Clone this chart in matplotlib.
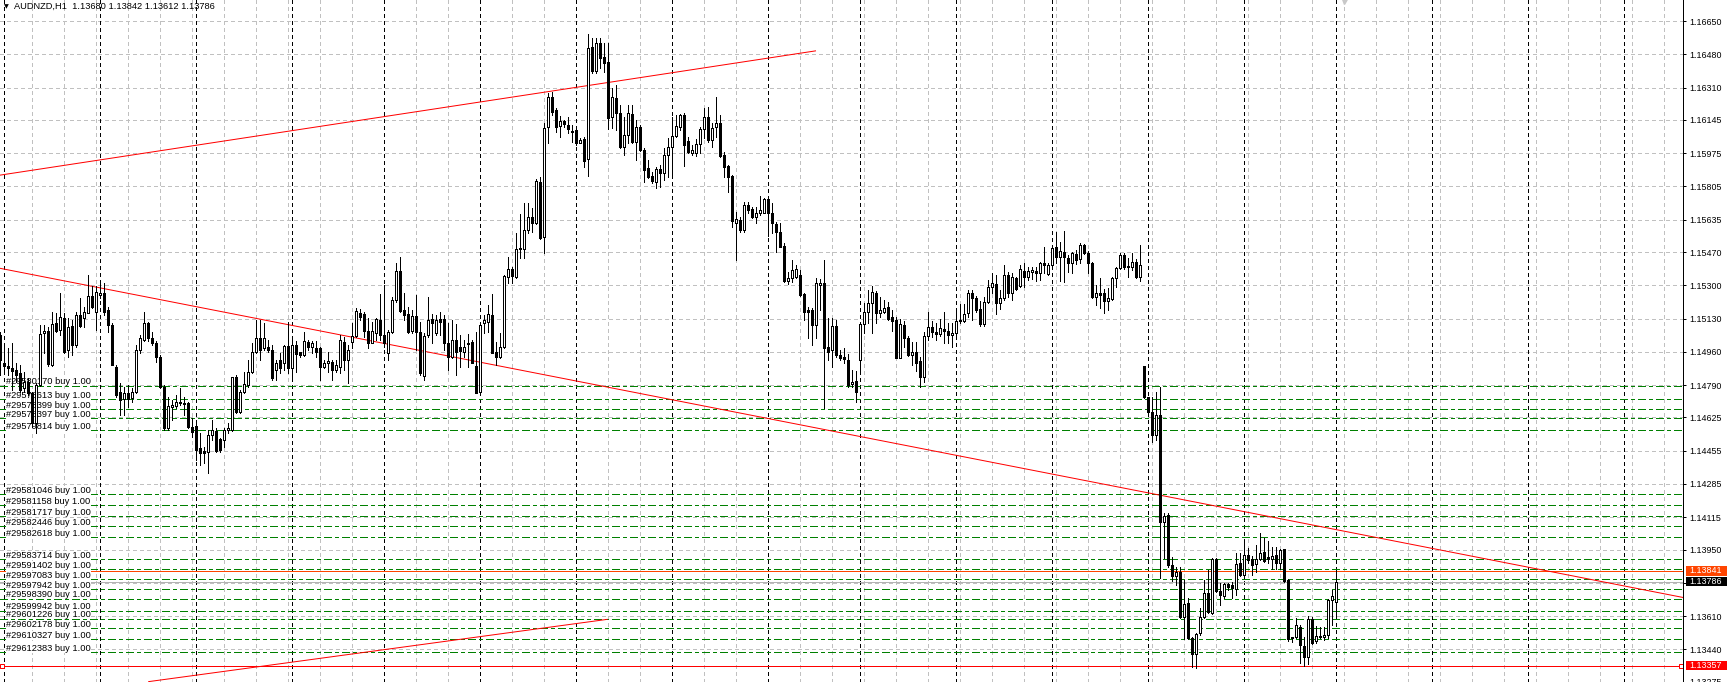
"""
AUDNZD H1 chart with order levels, trend lines and price scale (MT4 style).
"""
import numpy as np
import matplotlib.pyplot as plt
from matplotlib.patches import Rectangle
from matplotlib.transforms import blended_transform_factory

plt.rcParams["font.family"] = ["Liberation Sans", "DejaVu Sans"]

FIG_W, FIG_H, DPI = 1728, 682, 100
PLOT_W = 1683
PX = 72 / DPI  # one pixel in points

# ---------------------------------------------------------------- data
opens = [
    1.15047, 1.14902, 1.14888, 1.14880, 1.14868, 1.14851, 1.14774, 1.14808, 1.14748, 1.14595,
    1.14791, 1.15055, 1.15069, 1.14893, 1.15110, 1.15072, 1.15132, 1.14970, 1.15093, 1.14995,
    1.15149, 1.15132, 1.15161, 1.15246, 1.15166, 1.15251, 1.15260, 1.15174, 1.15098, 1.14885,
    1.14757, 1.14718, 1.14752, 1.14723, 1.14757, 1.14970, 1.15021, 1.15106, 1.15030, 1.15004,
    1.14936, 1.14782, 1.14569, 1.14680, 1.14684, 1.14706, 1.14701, 1.14701, 1.14578, 1.14581,
    1.14467, 1.14455, 1.14450, 1.14535, 1.14558, 1.14513, 1.14510, 1.14561, 1.14561, 1.14830,
    1.14655, 1.14757, 1.14791, 1.14859, 1.14961, 1.15030, 1.14978, 1.14983, 1.14970, 1.14868,
    1.14919, 1.14902, 1.14990, 1.14876, 1.14995, 1.14958, 1.14944, 1.15008, 1.14983, 1.14978,
    1.14978, 1.14885, 1.14902, 1.14910, 1.14868, 1.14885, 1.15012, 1.14918, 1.15012, 1.15041,
    1.15160, 1.15153, 1.15068, 1.15007, 1.15054, 1.15122, 1.15046, 1.14952, 1.15059, 1.15225,
    1.15375, 1.15173, 1.15153, 1.15068, 1.15143, 1.15063, 1.14836, 1.15046, 1.15126, 1.15054,
    1.15126, 1.15126, 1.15003, 1.14935, 1.15020, 1.14986, 1.14961, 1.15000, 1.15012, 1.14887,
    1.14756, 1.15105, 1.15114, 1.15148, 1.14961, 1.14932, 1.14983, 1.15344, 1.15381, 1.15344,
    1.15484, 1.15487, 1.15583, 1.15651, 1.15617, 1.15826, 1.15549, 1.16107, 1.16261, 1.16196,
    1.16114, 1.16140, 1.16119, 1.16090, 1.16094, 1.16029, 1.16048, 1.15944, 1.16520, 1.16397,
    1.16537, 1.16465, 1.16440, 1.16158, 1.16256, 1.16182, 1.16008, 1.16068, 1.16175, 1.16031,
    1.16111, 1.15991, 1.15898, 1.15859, 1.15830, 1.15893, 1.15872, 1.15966, 1.16005, 1.16063,
    1.16111, 1.16170, 1.16039, 1.15978, 1.15974, 1.16022, 1.16097, 1.16158, 1.16043, 1.16107,
    1.16131, 1.15966, 1.15910, 1.15859, 1.15617, 1.15634, 1.15583, 1.15711, 1.15689, 1.15648,
    1.15668, 1.15672, 1.15740, 1.15668, 1.15614, 1.15573, 1.15501, 1.15324, 1.15336, 1.15345,
    1.15353, 1.15254, 1.15174, 1.15174, 1.15098, 1.15302, 1.15311, 1.14987, 1.14969, 1.15092,
    1.14944, 1.14936, 1.14919, 1.14796, 1.14813, 1.14919, 1.15103, 1.15166, 1.15212, 1.15259,
    1.15161, 1.15166, 1.15188, 1.15137, 1.15123, 1.14927, 1.15098, 1.15029, 1.14944, 1.14961,
    1.14915, 1.14830, 1.15041, 1.15089, 1.15063, 1.15052, 1.15075, 1.15069, 1.15046, 1.15055,
    1.15120, 1.15120, 1.15157, 1.15263, 1.15234, 1.15178, 1.15103, 1.15217, 1.15290, 1.15307,
    1.15208, 1.15234, 1.15353, 1.15259, 1.15336, 1.15294, 1.15375, 1.15344, 1.15370, 1.15375,
    1.15362, 1.15416, 1.15358, 1.15404, 1.15494, 1.15443, 1.15469, 1.15438, 1.15413, 1.15460,
    1.15433, 1.15506, 1.15464, 1.15413, 1.15239, 1.15263, 1.15259, 1.15222, 1.15229, 1.15336,
    1.15387, 1.15455, 1.15399, 1.15396, 1.15418, 1.15341, 1.14888, 1.14728, 1.14654, 1.14535,
    1.14637, 1.14092, 1.14126, 1.13870, 1.13814, 1.13836, 1.13606, 1.13677, 1.13496, 1.13416,
    1.13521, 1.13606, 1.13726, 1.13627, 1.13900, 1.13740, 1.13713, 1.13774, 1.13769, 1.13747,
    1.13880, 1.13820, 1.13922, 1.13900, 1.13876, 1.13900, 1.13939, 1.13914, 1.13900, 1.13922,
    1.13883, 1.13951, 1.13794, 1.13501, 1.13501, 1.13556, 1.13457, 1.13399, 1.13593, 1.13484,
    1.13508, 1.13501, 1.13513, 1.13690, 1.13680,
]
highs = [
    1.15064, 1.15004, 1.14978, 1.15004, 1.14902, 1.14893, 1.14859, 1.14825, 1.14757, 1.14800,
    1.15098, 1.15098, 1.15089, 1.15166, 1.15157, 1.15260, 1.15157, 1.15132, 1.15123, 1.15166,
    1.15234, 1.15191, 1.15353, 1.15294, 1.15294, 1.15311, 1.15311, 1.15191, 1.15106, 1.14893,
    1.14800, 1.14782, 1.14791, 1.14774, 1.14995, 1.15047, 1.15166, 1.15115, 1.15064, 1.15013,
    1.14944, 1.14791, 1.14731, 1.14714, 1.14740, 1.14774, 1.14731, 1.14706, 1.14621, 1.14595,
    1.14544, 1.14476, 1.14561, 1.14612, 1.14569, 1.14518, 1.14569, 1.14595, 1.14834, 1.14842,
    1.14765, 1.14859, 1.14919, 1.15004, 1.15123, 1.15123, 1.15106, 1.15021, 1.14995, 1.14919,
    1.14953, 1.14995, 1.15115, 1.15021, 1.15013, 1.14961, 1.15064, 1.15021, 1.15013, 1.15013,
    1.14987, 1.14919, 1.14961, 1.14919, 1.14919, 1.15047, 1.15037, 1.14995, 1.15105, 1.15182,
    1.15177, 1.15165, 1.15131, 1.15114, 1.15131, 1.15254, 1.15301, 1.15071, 1.15242, 1.15412,
    1.15443, 1.15259, 1.15187, 1.15173, 1.15250, 1.15114, 1.15054, 1.15242, 1.15156, 1.15148,
    1.15165, 1.15148, 1.15105, 1.15122, 1.15102, 1.15046, 1.15020, 1.15051, 1.15020, 1.15063,
    1.15102, 1.15148, 1.15199, 1.15255, 1.15012, 1.15054, 1.15352, 1.15446, 1.15395, 1.15569,
    1.15663, 1.15722, 1.15722, 1.15693, 1.15841, 1.15855, 1.16128, 1.16285, 1.16290, 1.16204,
    1.16165, 1.16145, 1.16162, 1.16119, 1.16102, 1.16051, 1.16060, 1.16584, 1.16562, 1.16562,
    1.16562, 1.16537, 1.16537, 1.16307, 1.16324, 1.16221, 1.16162, 1.16221, 1.16221, 1.16145,
    1.16119, 1.16000, 1.15940, 1.15881, 1.15906, 1.15915, 1.16000, 1.16051, 1.16162, 1.16170,
    1.16175, 1.16179, 1.16060, 1.16017, 1.16046, 1.16111, 1.16204, 1.16210, 1.16128, 1.16264,
    1.16170, 1.15983, 1.15915, 1.15865, 1.15677, 1.15651, 1.15728, 1.15728, 1.15702, 1.15702,
    1.15757, 1.15745, 1.15745, 1.15723, 1.15626, 1.15617, 1.15515, 1.15370, 1.15430, 1.15404,
    1.15379, 1.15259, 1.15191, 1.15183, 1.15336, 1.15331, 1.15430, 1.15132, 1.15132, 1.15123,
    1.14970, 1.14978, 1.14949, 1.14868, 1.14864, 1.15106, 1.15208, 1.15276, 1.15294, 1.15273,
    1.15242, 1.15225, 1.15217, 1.15174, 1.15137, 1.15127, 1.15120, 1.15041, 1.15012, 1.15012,
    1.14932, 1.15063, 1.15166, 1.15120, 1.15106, 1.15127, 1.15166, 1.15106, 1.15106, 1.15174,
    1.15205, 1.15205, 1.15276, 1.15276, 1.15246, 1.15222, 1.15242, 1.15328, 1.15362, 1.15353,
    1.15276, 1.15404, 1.15370, 1.15362, 1.15344, 1.15404, 1.15413, 1.15396, 1.15396, 1.15396,
    1.15421, 1.15494, 1.15413, 1.15501, 1.15574, 1.15523, 1.15578, 1.15455, 1.15472, 1.15481,
    1.15515, 1.15511, 1.15477, 1.15421, 1.15302, 1.15336, 1.15280, 1.15285, 1.15344, 1.15396,
    1.15464, 1.15467, 1.15438, 1.15467, 1.15433, 1.15506, 1.14888, 1.14731, 1.14728, 1.14757,
    1.14782, 1.14138, 1.14135, 1.13913, 1.13863, 1.13863, 1.13794, 1.13700, 1.13501, 1.13525,
    1.13649, 1.13794, 1.13845, 1.13905, 1.13905, 1.13781, 1.13781, 1.13777, 1.13786, 1.13934,
    1.13934, 1.14002, 1.13956, 1.13917, 1.13973, 1.14033, 1.14008, 1.13996, 1.13961, 1.13965,
    1.13951, 1.13955, 1.13797, 1.13505, 1.13598, 1.13564, 1.13505, 1.13610, 1.13607, 1.13559,
    1.13556, 1.13556, 1.13695, 1.13743, 1.13842,
]
lows = [
    1.14842, 1.14868, 1.14842, 1.14765, 1.14808, 1.14757, 1.14757, 1.14740, 1.14578, 1.14544,
    1.14783, 1.14953, 1.14888, 1.14888, 1.15064, 1.15047, 1.14953, 1.14936, 1.14944, 1.14987,
    1.15089, 1.15089, 1.15157, 1.15183, 1.15072, 1.15234, 1.15149, 1.15064, 1.14893, 1.14731,
    1.14638, 1.14638, 1.14680, 1.14706, 1.14748, 1.14953, 1.15013, 1.15013, 1.14995, 1.14910,
    1.14774, 1.14561, 1.14561, 1.14612, 1.14672, 1.14689, 1.14638, 1.14569, 1.14527, 1.14408,
    1.14382, 1.14391, 1.14340, 1.14510, 1.14450, 1.14450, 1.14476, 1.14544, 1.14558, 1.14646,
    1.14646, 1.14748, 1.14782, 1.14851, 1.14953, 1.14919, 1.14970, 1.14961, 1.14817, 1.14817,
    1.14851, 1.14868, 1.14851, 1.14817, 1.14859, 1.14936, 1.14939, 1.14970, 1.14953, 1.14936,
    1.14817, 1.14876, 1.14859, 1.14817, 1.14859, 1.14851, 1.14867, 1.14799, 1.14978, 1.15037,
    1.15122, 1.15037, 1.14978, 1.15003, 1.15020, 1.15020, 1.14986, 1.14918, 1.15054, 1.15216,
    1.15165, 1.15122, 1.15054, 1.15058, 1.14969, 1.14841, 1.14816, 1.15037, 1.15003, 1.15046,
    1.15046, 1.14969, 1.14867, 1.14927, 1.14841, 1.14884, 1.14935, 1.14884, 1.14901, 1.14748,
    1.14739, 1.15054, 1.15063, 1.14952, 1.14892, 1.14927, 1.14978, 1.15310, 1.15310, 1.15335,
    1.15438, 1.15438, 1.15565, 1.15574, 1.15613, 1.15535, 1.15463, 1.16029, 1.16170, 1.16085,
    1.16060, 1.16111, 1.16077, 1.16034, 1.16017, 1.16026, 1.15906, 1.15859, 1.16383, 1.16387,
    1.16409, 1.16392, 1.16097, 1.16102, 1.16094, 1.16000, 1.15966, 1.16026, 1.16026, 1.15940,
    1.15986, 1.15830, 1.15847, 1.15821, 1.15796, 1.15804, 1.15838, 1.15855, 1.15855, 1.16060,
    1.16094, 1.15910, 1.15974, 1.15966, 1.15961, 1.15974, 1.16051, 1.16034, 1.16009, 1.16060,
    1.15957, 1.15855, 1.15778, 1.15600, 1.15430, 1.15570, 1.15575, 1.15672, 1.15643, 1.15621,
    1.15660, 1.15668, 1.15553, 1.15566, 1.15472, 1.15495, 1.15319, 1.15307, 1.15319, 1.15336,
    1.15246, 1.15123, 1.15029, 1.14995, 1.15029, 1.15174, 1.14672, 1.14919, 1.14885, 1.14936,
    1.14919, 1.14902, 1.14782, 1.14782, 1.14706, 1.14850, 1.15055, 1.15106, 1.15055, 1.15106,
    1.15140, 1.15157, 1.15123, 1.15069, 1.14927, 1.14927, 1.14983, 1.14939, 1.14893, 1.14864,
    1.14779, 1.14808, 1.15021, 1.15038, 1.15021, 1.15041, 1.15004, 1.15007, 1.14987, 1.15041,
    1.15110, 1.15115, 1.15140, 1.15123, 1.15166, 1.15092, 1.15092, 1.15212, 1.15259, 1.15154,
    1.15178, 1.15225, 1.15242, 1.15225, 1.15276, 1.15290, 1.15293, 1.15327, 1.15331, 1.15324,
    1.15327, 1.15361, 1.15353, 1.15399, 1.15413, 1.15324, 1.15319, 1.15370, 1.15365, 1.15409,
    1.15413, 1.15460, 1.15361, 1.15234, 1.15200, 1.15183, 1.15160, 1.15174, 1.15225, 1.15290,
    1.15382, 1.15382, 1.15344, 1.15379, 1.15336, 1.15324, 1.14722, 1.14642, 1.14501, 1.14510,
    1.13802, 1.13905, 1.13862, 1.13790, 1.13768, 1.13600, 1.13491, 1.13491, 1.13351, 1.13347,
    1.13513, 1.13600, 1.13624, 1.13621, 1.13735, 1.13667, 1.13701, 1.13743, 1.13701, 1.13718,
    1.13815, 1.13803, 1.13880, 1.13820, 1.13837, 1.13895, 1.13888, 1.13883, 1.13849, 1.13849,
    1.13849, 1.13786, 1.13484, 1.13479, 1.13496, 1.13368, 1.13355, 1.13365, 1.13467, 1.13471,
    1.13496, 1.13488, 1.13496, 1.13564, 1.13612,
]
closes = [
    1.14919, 1.14888, 1.14876, 1.14863, 1.14842, 1.14765, 1.14808, 1.14748, 1.14595, 1.14791,
    1.15052, 1.15069, 1.14898, 1.15103, 1.15069, 1.15137, 1.14961, 1.15089, 1.14995, 1.15149,
    1.15093, 1.15166, 1.15246, 1.15191, 1.15268, 1.15263, 1.15166, 1.15098, 1.14893, 1.14740,
    1.14714, 1.14748, 1.14718, 1.14757, 1.14970, 1.15030, 1.15106, 1.15030, 1.15004, 1.14936,
    1.14782, 1.14569, 1.14684, 1.14689, 1.14706, 1.14697, 1.14694, 1.14578, 1.14552, 1.14459,
    1.14442, 1.14442, 1.14535, 1.14561, 1.14455, 1.14459, 1.14561, 1.14569, 1.14830, 1.14655,
    1.14757, 1.14796, 1.14859, 1.14961, 1.15030, 1.14970, 1.15030, 1.14970, 1.14825, 1.14902,
    1.14876, 1.14990, 1.14876, 1.14995, 1.14949, 1.14944, 1.15013, 1.14987, 1.15004, 1.14961,
    1.14885, 1.14905, 1.14915, 1.14868, 1.14893, 1.15021, 1.14918, 1.14969, 1.15041, 1.15170,
    1.15136, 1.15068, 1.15007, 1.15068, 1.15128, 1.15046, 1.15003, 1.15059, 1.15225, 1.15375,
    1.15170, 1.15148, 1.15063, 1.15143, 1.15063, 1.14850, 1.15041, 1.15122, 1.15109, 1.15122,
    1.15114, 1.15003, 1.14935, 1.15020, 1.14961, 1.14966, 1.14983, 1.15003, 1.14904, 1.14751,
    1.15097, 1.15122, 1.15153, 1.14955, 1.14932, 1.14983, 1.15347, 1.15381, 1.15347, 1.15484,
    1.15489, 1.15583, 1.15651, 1.15617, 1.15833, 1.15540, 1.16102, 1.16261, 1.16187, 1.16111,
    1.16140, 1.16123, 1.16099, 1.16085, 1.16026, 1.16043, 1.15937, 1.16511, 1.16397, 1.16537,
    1.16460, 1.16435, 1.16153, 1.16264, 1.16182, 1.16008, 1.16068, 1.16179, 1.16031, 1.16107,
    1.15991, 1.15889, 1.15855, 1.15833, 1.15893, 1.15872, 1.15966, 1.16005, 1.16063, 1.16114,
    1.16170, 1.16017, 1.15983, 1.15991, 1.16022, 1.16097, 1.16158, 1.16043, 1.16102, 1.16131,
    1.15961, 1.15906, 1.15855, 1.15631, 1.15638, 1.15583, 1.15711, 1.15685, 1.15648, 1.15668,
    1.15685, 1.15740, 1.15672, 1.15617, 1.15570, 1.15498, 1.15324, 1.15336, 1.15379, 1.15382,
    1.15251, 1.15166, 1.15166, 1.15098, 1.15311, 1.15311, 1.14978, 1.14961, 1.15094, 1.14944,
    1.14931, 1.14922, 1.14791, 1.14808, 1.14757, 1.15103, 1.15166, 1.15212, 1.15268, 1.15161,
    1.15174, 1.15183, 1.15127, 1.15120, 1.14927, 1.15103, 1.15029, 1.14944, 1.14961, 1.14905,
    1.14830, 1.15041, 1.15089, 1.15063, 1.15052, 1.15080, 1.15069, 1.15046, 1.15055, 1.15120,
    1.15123, 1.15154, 1.15263, 1.15234, 1.15174, 1.15101, 1.15217, 1.15290, 1.15311, 1.15208,
    1.15234, 1.15353, 1.15259, 1.15341, 1.15280, 1.15382, 1.15341, 1.15375, 1.15379, 1.15365,
    1.15413, 1.15404, 1.15404, 1.15489, 1.15443, 1.15477, 1.15443, 1.15413, 1.15464, 1.15430,
    1.15506, 1.15464, 1.15413, 1.15239, 1.15259, 1.15251, 1.15222, 1.15234, 1.15336, 1.15387,
    1.15455, 1.15392, 1.15392, 1.15421, 1.15341, 1.15404, 1.14728, 1.14654, 1.14535, 1.14637,
    1.14092, 1.14121, 1.13870, 1.13814, 1.13836, 1.13606, 1.13674, 1.13496, 1.13416, 1.13518,
    1.13606, 1.13726, 1.13632, 1.13900, 1.13740, 1.13718, 1.13774, 1.13760, 1.13752, 1.13876,
    1.13820, 1.13922, 1.13897, 1.13871, 1.13900, 1.13934, 1.13893, 1.13900, 1.13917, 1.13883,
    1.13948, 1.13791, 1.13491, 1.13496, 1.13564, 1.13462, 1.13399, 1.13593, 1.13474, 1.13508,
    1.13501, 1.13513, 1.13690, 1.13714, 1.13786,
]

# bars where a new trading day starts (period separators)
day_starts = [1, 25, 49, 73, 96, 120, 144, 168, 192, 215, 239, 263, 287, 311, 334, 358, 382, 406]

price_ticks = [1.16650, 1.16480, 1.16310, 1.16145, 1.15975, 1.15805, 1.15635, 1.15470,
               1.15300, 1.15130, 1.14960, 1.14790, 1.14625, 1.14455, 1.14285, 1.14115,
               1.13950, 1.13780, 1.13610, 1.13440, 1.13275]
price_tick_labels = ["1.16650", "1.16480", "1.16310", "1.16145", "1.15975", "1.15805",
                     "1.15635", "1.15470", "1.15300", "1.15130", "1.14960", "1.14790",
                     "1.14625", "1.14455", "1.14285", "1.14115", "1.13950", "",
                     "1.13610", "1.13440", "1.13275"]

order_tickets = ["29580170", "29578613", "29578399", "29578397", "29579814",
                 "29581046", "29581158", "29581717", "29582446", "29582618",
                 "29583714", "29591402", "29597083", "29597942", "29598390",
                 "29599942", "29601226", "29602178", "29610327", "29612383"]
order_prices = [1.14786, 1.14719, 1.14667, 1.14621, 1.14559,
                1.14232, 1.14176, 1.14120, 1.14070, 1.14012,
                1.13900, 1.13850, 1.13798, 1.13747, 1.13699,
                1.13636, 1.13597, 1.13547, 1.13491, 1.13426]

# trend lines as (bar, price) anchors
trend_upper = ([-0.075, 203.8], [1.15863, 1.16498])
trend_down = ([-0.075, 420.675], [1.15387, 1.13705])
trend_lower = ([37.1, 151.7], [1.13275, 1.13593])

symbol = "AUDNZD,H1"
ask_price = 1.13841
bid_price = 1.13786
level_price = 1.13357
shift_bar = 336

# ---------------------------------------------------------------- figure
fig = plt.figure(figsize=(FIG_W / DPI, FIG_H / DPI), dpi=DPI)
ax = fig.add_axes([0, 0, PLOT_W / FIG_W, 1])
ax.set_xlim(-0.075, 420.675)
ax.set_ylim(1.13273, 1.16758)
y_lo, y_hi = ax.get_ylim()
dy = (y_hi - y_lo) / FIG_H  # one pixel in price units
side = blended_transform_factory(ax.transAxes, ax.transData)

for s in ["left", "top", "bottom"]:
    ax.spines[s].set_visible(False)
ax.spines["right"].set_linewidth(PX)
ax.set_xticks([])

# grid
for p in price_ticks:
    ax.axhline(p, color="#c0c0c0", lw=PX, dashes=(4, 3), zorder=1, antialiased=False)
for b in range(8, 421, 8):
    ax.axvline(b, color="#c0c0c0", lw=PX, dashes=(4, 3), zorder=1, antialiased=False)
for b in day_starts:
    ax.axvline(b, color="black", lw=PX, dashes=(3, 3), zorder=1.2, antialiased=False)

# order levels with labels
for tk, p in zip(order_tickets, order_prices):
    ax.axhline(p, color="#008000", lw=PX, dashes=(8, 3, 3, 3), zorder=2, antialiased=False)
for tk, p in zip(order_tickets, order_prices):
    ax.annotate(f"#{tk} buy 1.00", xy=(0, p), xycoords=side,
                xytext=(6.5 * PX, 1.5 * PX), textcoords="offset points",
                ha="left", va="baseline", fontsize=6.7, zorder=3,
                bbox=dict(boxstyle="square,pad=0", fc="white", ec="none"))

# ask / bid / horizontal level
ax.axhline(ask_price, color="#ff4500", lw=PX, zorder=2.2, antialiased=False)
ax.axhline(bid_price, color="#b4b4b4", lw=PX, zorder=2.2, antialiased=False)
ax.axhline(level_price, color="#ff0000", lw=PX, zorder=2.2, antialiased=False)
ax.plot([0.5, 420.2], [level_price, level_price], ls="none", marker="s", ms=4 * PX,
        mfc="white", mec="#ff0000", mew=PX, zorder=2.3, clip_on=False)

# trend lines
for xs, ys in (trend_upper, trend_down, trend_lower):
    ax.plot(xs, ys, color="#ff0000", lw=PX, zorder=2.5)

# candles
bars = np.arange(len(closes))
o = np.array(opens)
c = np.array(closes)
ax.vlines(bars, lows, highs, color="black", lw=PX, zorder=4, antialiased=False)
bull = c >= o
ax.bar(bars[bull], (c - o)[bull], bottom=o[bull], width=0.5, color="white",
       edgecolor="black", linewidth=PX, zorder=4.5, antialiased=False)
ax.bar(bars[~bull], (o - c)[~bull], bottom=c[~bull], width=0.5, color="black",
       edgecolor="black", linewidth=PX, zorder=4.5, antialiased=False)

# price scale
ax.yaxis.tick_right()
ax.set_yticks(price_ticks)
ax.set_yticklabels(price_tick_labels)
ax.tick_params(axis="y", direction="out", length=3 * PX, width=PX, pad=3 * PX,
               labelsize=6.4, colors="black")

for p, col in ((ask_price, "#ff4500"), (bid_price, "black"), (level_price, "#ff0000")):
    ax.add_patch(Rectangle((3 / PLOT_W + 1, p - 4.7 * dy), 41 / PLOT_W, 9.6 * dy,
                           transform=side, fc=col, ec="none", clip_on=False, zorder=5))
    ax.text(1 + 6 / PLOT_W, p, f"{p:.5f}", transform=side, color="white",
            fontsize=6.4, va="center", ha="left", zorder=6, clip_on=False)

# chart shift marker
ax.plot([shift_bar], [y_hi], marker="v", ms=7 * PX, color="#c8c8c8", ls="none",
        zorder=6, clip_on=False)

# header
fig.text(4 / FIG_W, 1 - 8.5 / FIG_H, "\u25bc", fontsize=4.5, family="DejaVu Sans",
         va="baseline", ha="left")
fig.text(14 / FIG_W, 1 - 9.3 / FIG_H,
         f"{symbol}  {opens[-1]:.5f} {highs[-1]:.5f} {lows[-1]:.5f} {closes[-1]:.5f}",
         fontsize=6.7, va="baseline", ha="left")

fig.savefig("out.png", dpi=DPI)
